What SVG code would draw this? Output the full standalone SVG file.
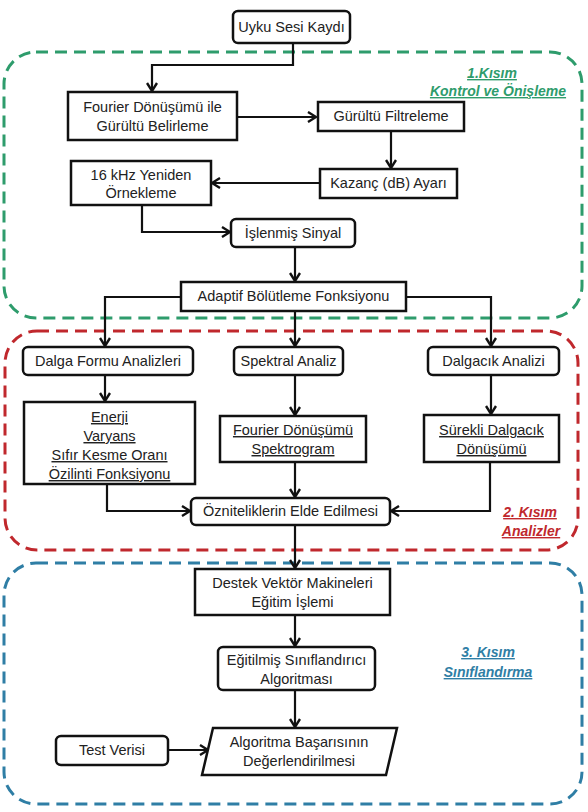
<svg xmlns="http://www.w3.org/2000/svg" width="588" height="812" viewBox="0 0 588 812">
<style>
.bx{fill:#fff;stroke:#111;stroke-width:2.5}
.t{font-family:"Liberation Sans",Arial,sans-serif;font-size:14.5px;fill:#222;text-anchor:middle}
.u{text-decoration:underline}
.c{fill:none;stroke:#111;stroke-width:2.2}
.lbl{font-family:"Liberation Sans",Arial,sans-serif;font-size:14px;font-weight:bold;font-style:italic;text-decoration:underline;text-anchor:middle}
.zone{fill:none;stroke-width:3;stroke-dasharray:12 7}
</style>
<defs>
<marker id="ah" viewBox="0 0 10 12" refX="9" refY="6" markerWidth="10" markerHeight="12" markerUnits="userSpaceOnUse" orient="auto">
<path d="M1,1 L9,6 L1,11" fill="none" stroke="#111" stroke-width="2.4"/>
</marker>
</defs>
<rect fill="#fff" width="588" height="812"/>
<g id="zones">
<rect class="zone" x="4" y="52" width="578" height="266" rx="32" stroke="#2e9c6c"/>
<rect class="zone" x="5" y="331" width="573" height="219" rx="32" stroke="#c0282d"/>
<rect class="zone" x="4" y="563" width="578" height="241" rx="32" stroke="#2f7ea5"/>
<text class="lbl" x="492" y="78" fill="#2e9c6c">1.Kısım</text>
<text class="lbl" x="498" y="96" fill="#2e9c6c">Kontrol ve Önişleme</text>
<text class="lbl" x="530" y="517" fill="#c0282d">2. Kısım</text>
<text class="lbl" x="531" y="536" fill="#c0282d">Analizler</text>
<text class="lbl" x="488" y="657" fill="#2f7ea5">3. Kısım</text>
<text class="lbl" x="488" y="677" fill="#2f7ea5">Sınıflandırma</text>
</g>
<g id="connectors">
<polyline class="c" points="293,43 293,65 152,65 152,91" marker-end="url(#ah)"/>
<line class="c" x1="237" y1="117" x2="316" y2="117" marker-end="url(#ah)"/>
<line class="c" x1="391" y1="131" x2="391" y2="168" marker-end="url(#ah)"/>
<line class="c" x1="320" y1="183" x2="212" y2="183" marker-end="url(#ah)"/>
<polyline class="c" points="142,205 142,232 230,232" marker-end="url(#ah)"/>
<line class="c" x1="295" y1="247" x2="295" y2="281" marker-end="url(#ah)"/>
<polyline class="c" points="181,297 105,297 105,346" marker-end="url(#ah)"/>
<line class="c" x1="295" y1="311" x2="295" y2="346" marker-end="url(#ah)"/>
<polyline class="c" points="406,297 491,297 491,346" marker-end="url(#ah)"/>
<line class="c" x1="105" y1="375" x2="105" y2="401" marker-end="url(#ah)"/>
<line class="c" x1="295" y1="375" x2="295" y2="415" marker-end="url(#ah)"/>
<line class="c" x1="491" y1="375" x2="491" y2="414" marker-end="url(#ah)"/>
<polyline class="c" points="107,484 107,511 190,511" marker-end="url(#ah)"/>
<line class="c" x1="295" y1="462" x2="295" y2="497" marker-end="url(#ah)"/>
<polyline class="c" points="490,462 490,511 391,511" marker-end="url(#ah)"/>
<line class="c" x1="295" y1="525" x2="295" y2="568" marker-end="url(#ah)"/>
<line class="c" x1="295" y1="615" x2="295" y2="646" marker-end="url(#ah)"/>
<line class="c" x1="295" y1="690" x2="295" y2="727" marker-end="url(#ah)"/>
<line class="c" x1="168" y1="750" x2="208" y2="750" marker-end="url(#ah)"/>
</g>
<g id="n1"><rect class="bx" x="233" y="11" width="117" height="32" rx="5"/><text class="t" x="291.5" y="32">Uyku Sesi Kaydı</text></g>
<g id="n2"><rect class="bx" x="68" y="92" width="169" height="48"/><text class="t" x="152.5" y="112">Fourier Dönüşümü ile</text><text class="t" x="152.5" y="131">Gürültü  Belirleme</text></g>
<g id="n3"><rect class="bx" x="318" y="102" width="146" height="29"/><text class="t" x="391" y="121">Gürültü  Filtreleme</text></g>
<g id="n4"><rect class="bx" x="320" y="169" width="137" height="29"/><text class="t" x="388.5" y="188">Kazanç (dB) Ayarı</text></g>
<g id="n5"><rect class="bx" x="71" y="161" width="140" height="44"/><text class="t" x="141" y="180">16 kHz Yeniden</text><text class="t" x="141" y="198">Örnekleme</text></g>
<g id="n6"><rect class="bx" x="231" y="219" width="124" height="28" rx="5"/><text class="t" x="293" y="238">İşlenmiş  Sinyal</text></g>
<g id="n7"><rect class="bx" x="181" y="282" width="225" height="29"/><text class="t" x="293.5" y="301">Adaptif Bölütleme  Fonksiyonu</text></g>
<g id="n8"><rect class="bx" x="23" y="347" width="170" height="28" rx="5"/><text class="t" x="108" y="366">Dalga Formu Analizleri</text></g>
<g id="n9"><rect class="bx" x="234" y="347" width="109" height="28" rx="5"/><text class="t" x="288.5" y="366">Spektral Analiz</text></g>
<g id="n10"><rect class="bx" x="428" y="347" width="131" height="28" rx="5"/><text class="t" x="493.5" y="366">Dalgacık Analizi</text></g>
<g id="n11"><rect class="bx" x="24" y="402" width="171" height="82"/><text class="t u" x="109.5" y="422">Enerji</text><text class="t u" x="109.5" y="441">Varyans</text><text class="t u" x="109.5" y="460">Sıfır  Kesme Oranı</text><text class="t u" x="109.5" y="479">Özilinti  Fonksiyonu</text></g>
<g id="n12"><rect class="bx" x="220" y="416" width="146" height="46"/><text class="t u" x="293" y="435">Fourier Dönüşümü</text><text class="t u" x="293" y="454">Spektrogram</text></g>
<g id="n13"><rect class="bx" x="424" y="415" width="135" height="47"/><text class="t u" x="491.5" y="435">Sürekli  Dalgacık</text><text class="t u" x="491.5" y="454">Dönüşümü</text></g>
<g id="n14"><rect class="bx" x="191" y="498" width="199" height="27" rx="5"/><text class="t" x="290.5" y="516">Özniteliklerin  Elde Edilmesi</text></g>
<g id="n15"><rect class="bx" x="195" y="569" width="195" height="46"/><text class="t" x="292.5" y="588">Destek Vektör Makineleri</text><text class="t" x="292.5" y="607">Eğitim İşlemi</text></g>
<g id="n16"><rect class="bx" x="218" y="647" width="157" height="43" rx="5"/><text class="t" x="296.5" y="665">Eğitilmiş Sınıflandırıcı</text><text class="t" x="296.5" y="684">Algoritması</text></g>
<g id="n17"><polygon class="bx" points="213,728 397,728 386,775 202,775"/><text class="t" x="299" y="747">Algoritma Başarısının</text><text class="t" x="299" y="766">Değerlendirilmesi</text></g>
<g id="n18"><rect class="bx" x="56" y="736" width="112" height="29" rx="5"/><text class="t" x="112" y="755">Test Verisi</text></g>
</svg>
